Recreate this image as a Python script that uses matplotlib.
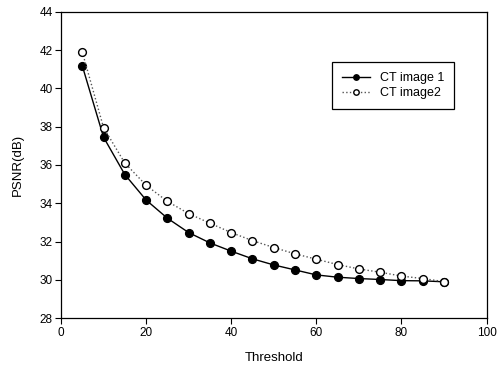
import matplotlib
matplotlib.use("Agg")
import matplotlib.pyplot as plt

plt.rcParams['font.family'] = ['Liberation Sans', 'DejaVu Sans']

threshold = [5, 10, 15, 20, 25, 30, 35, 40, 45, 50, 55, 60, 65, 70, 75, 80, 85, 90]
psnr_ct1 = [41.18, 37.45, 35.5, 34.17, 33.22, 32.47, 31.93, 31.5, 31.1, 30.78,
            30.52, 30.26, 30.14, 30.07, 30.02, 29.96, 29.95, 29.9]
psnr_ct2 = [41.9, 37.95, 36.1, 34.94, 34.1, 33.46, 32.96, 32.47, 32.05, 31.69,
            31.36, 31.08, 30.8, 30.57, 30.4, 30.2, 30.07, 29.91]

fig = plt.figure(figsize=(5, 3.67), dpi=100)
ax = fig.add_axes([0.122, 0.133, 0.851, 0.835])

ax.plot(threshold, psnr_ct1, '-', color='black', lw=1.0, marker='o',
        markersize=5.6, markerfacecolor='black', markeredgecolor='black',
        label='CT image 1')
ax.plot(threshold, psnr_ct2, ':', color='#555555', lw=1.0, marker='o',
        markersize=5.6, markerfacecolor='white', markeredgecolor='black',
        markeredgewidth=1.0, label='CT image2')

ax.set_xlim(0, 100)
ax.set_ylim(28, 44)
ax.set_xticks(range(0, 101, 20))
ax.set_yticks(range(28, 45, 2))
ax.tick_params(direction='out', length=4, width=0.8, labelsize=8.5, pad=2)
for s in ax.spines.values():
    s.set_linewidth(0.9)

ax.set_xlabel('Threshold', fontsize=9.5, labelpad=10)
ax.set_ylabel('PSNR(dB)', fontsize=9.5, labelpad=11)

leg = ax.legend(loc='upper left', bbox_to_anchor=(0.623, 0.855), fontsize=9,
                fancybox=False, framealpha=1, edgecolor='black',
                handlelength=2.2, markerscale=0.7, borderpad=0.8,
                labelspacing=0.2)
leg.get_frame().set_linewidth(0.9)

fig.savefig('out.png', dpi=100)
